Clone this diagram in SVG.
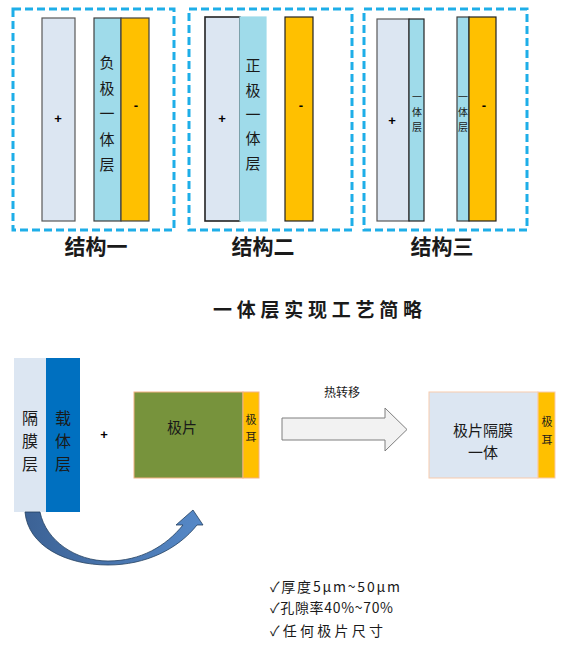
<svg xmlns="http://www.w3.org/2000/svg" width="567" height="652" viewBox="0 0 567 652">
<defs>
<style>
.dash{fill:none;stroke:#1eaee8;stroke-width:3;stroke-dasharray:8 4}
.lt{fill:#dce6f2;stroke:#595959;stroke-width:1.2}
.cy{fill:#9fdbea;stroke:#404040;stroke-width:1.2}
.or{fill:#ffc000;stroke:#404040;stroke-width:1.2}
.t{font-family:"Noto Sans CJK SC","Noto Sans",sans-serif;fill:#1a1a1a}
.v{font-size:15px;text-anchor:middle}
.s{font-size:10px;text-anchor:middle}
.pm{font-family:"Liberation Sans",sans-serif;font-weight:bold;font-size:13px;text-anchor:middle;fill:#000}
.lab{font-size:21px;font-weight:bold;text-anchor:middle}
</style>
<linearGradient id="cg" x1="0" y1="0" x2="1" y2="0">
<stop offset="0" stop-color="#3c6295"/>
<stop offset="1" stop-color="#5689c8"/>
</linearGradient>
</defs>

<g id="structure1">
<rect class="dash" x="13" y="9" width="161" height="221"/>
<rect class="lt" x="42" y="18" width="33" height="203"/>
<rect class="cy" x="94" y="18" width="27" height="203"/>
<rect class="or" x="121" y="18" width="28" height="203"/>
<text class="pm" x="58" y="123">+</text>
<text class="pm" x="136" y="110">-</text>
<text class="t v"><tspan x="107" y="68">负</tspan><tspan x="107" y="94">极</tspan><tspan x="107" y="119">一</tspan><tspan x="107" y="145">体</tspan><tspan x="107" y="170">层</tspan></text>
<text class="t lab" x="96" y="254">结构一</text>
</g>

<g id="structure2">
<rect class="dash" x="189" y="9" width="163" height="221"/>
<rect class="lt" x="205" y="17" width="35" height="204" style="stroke:#222;stroke-width:1.6"/>
<rect class="cy" x="240" y="17" width="26" height="204" style="stroke:#9fdbea"/>
<rect class="or" x="285" y="17" width="28" height="204" style="stroke:#222"/>
<text class="pm" x="222" y="123">+</text>
<text class="pm" x="301" y="110">-</text>
<text class="t v"><tspan x="253" y="71">正</tspan><tspan x="253" y="96">极</tspan><tspan x="253" y="120">一</tspan><tspan x="253" y="144">体</tspan><tspan x="253" y="169">层</tspan></text>
<text class="t lab" x="263" y="254">结构二</text>
</g>

<g id="structure3">
<rect class="dash" x="364" y="9" width="163" height="221"/>
<rect class="lt" x="377" y="19" width="32" height="202"/>
<rect class="cy" x="409" y="19" width="15" height="202" style="stroke:#222"/>
<rect class="cy" x="457" y="17" width="12" height="204"/>
<rect class="or" x="469" y="17" width="27" height="204" style="stroke:#222"/>
<text class="pm" x="392" y="125">+</text>
<text class="pm" x="484" y="110">-</text>
<text class="t s"><tspan x="417" y="101">一</tspan><tspan x="417" y="116">体</tspan><tspan x="417" y="131">层</tspan></text>
<text class="t s"><tspan x="463" y="101">一</tspan><tspan x="463" y="116">体</tspan><tspan x="463" y="131">层</tspan></text>
<text class="t lab" x="442" y="254">结构三</text>
</g>

<g id="title">
<text class="t" x="213" y="317" font-size="19" font-weight="bold" textLength="209" lengthAdjust="spacing">一体层实现工艺简略</text>
</g>

<g id="separator">
<rect x="14" y="358" width="32" height="154" fill="#dce6f2"/>
<rect x="46" y="358" width="34" height="154" fill="#0070c0"/>
<text class="t" font-size="16" text-anchor="middle"><tspan x="30" y="424">隔</tspan><tspan x="30" y="447">膜</tspan><tspan x="30" y="470">层</tspan></text>
<text class="t" font-size="16" text-anchor="middle"><tspan x="63" y="424">载</tspan><tspan x="63" y="447">体</tspan><tspan x="63" y="470">层</tspan></text>
</g>

<g id="plus">
<text class="pm" x="104" y="439">+</text>
</g>

<g id="electrode">
<rect x="134" y="392" width="109" height="86" fill="#77933c" stroke="#f4b183" stroke-width="1"/>
<rect x="243" y="392" width="16" height="86" fill="#ffc000" stroke="#f4b183" stroke-width="1"/>
<text class="t" x="182" y="433" font-size="15" text-anchor="middle">极片</text>
<text class="t" font-size="11" text-anchor="middle"><tspan x="251" y="424">极</tspan><tspan x="251" y="441">耳</tspan></text>
</g>

<g id="result">
<rect x="429" y="392" width="109" height="86" fill="#dce6f2" stroke="#f8cbad" stroke-width="1"/>
<rect x="538" y="392" width="17" height="86" fill="#ffc000" stroke="#f8cbad" stroke-width="1"/>
<text class="t" x="483" y="436" font-size="15" text-anchor="middle">极片隔膜</text>
<text class="t" x="483" y="458" font-size="15" text-anchor="middle">一体</text>
<text class="t" font-size="11" text-anchor="middle"><tspan x="547" y="426">极</tspan><tspan x="547" y="444">耳</tspan></text>
</g>

<g id="connectors">
<path d="M282,418 L385,418 L385,408 L407,429.5 L385,451 L385,440 L282,440 Z" fill="#f2f2f2" stroke="#7f7f7f" stroke-width="1"/>
<text class="t" x="342" y="397" font-size="12" text-anchor="middle">热转移</text>
<path d="M25,512 C28,546 66,565 108,565 C146,565 178,549 197,525 L203,525 L193,510 L176,525 L183,525 C166,546 141,561 108,561 C76,561 46,541 40,512 Z" fill="url(#cg)" stroke="#23405f" stroke-width="0.8"/>
</g>

<g id="features">
<text class="t" font-size="14"><tspan x="270" y="592" textLength="130" lengthAdjust="spacing">✓厚度5μm~50μm</tspan><tspan x="270" y="613" textLength="123" lengthAdjust="spacing">✓孔隙率40%~70%</tspan><tspan x="270" y="636" textLength="113" lengthAdjust="spacing">✓任何极片尺寸</tspan></text>
</g>
</svg>
